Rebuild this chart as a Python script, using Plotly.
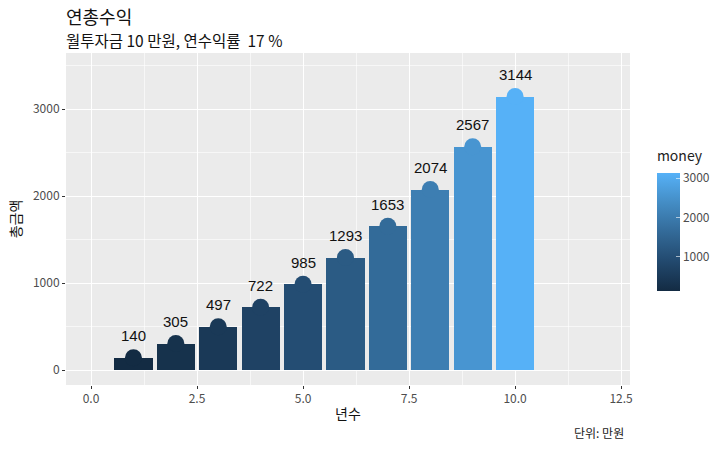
import plotly.graph_objects as go

years = [1, 2, 3, 4, 5, 6, 7, 8, 9, 10]
money = [140, 305, 497, 722, 985, 1293, 1653, 2074, 2567, 3144]
x_ticks = [0, 2.5, 5, 7.5, 10, 12.5]
x_tick_labels = ["0.0", "2.5", "5.0", "7.5", "10.0", "12.5"]
y_ticks = [0, 1000, 2000, 3000]
cbar_ticks = [1000, 2000, 3000]

cscale = [[0.0, "#132B43"], [0.25, "#22496E"], [0.5, "#336A98"],
          [0.75, "#448DC5"], [1.0, "#56B1F7"]]
cmin, cmax = min(money), max(money)

fig = go.Figure()
fig.add_trace(go.Bar(
    x=years, y=money, width=0.9,
    marker=dict(color=money, colorscale=cscale, cmin=cmin, cmax=cmax,
                line=dict(width=0), showscale=False),
    hoverinfo="x+y"))
fig.add_trace(go.Scatter(
    x=years, y=money, mode="markers",
    marker=dict(size=17, color=money, colorscale=cscale, cmin=cmin, cmax=cmax,
                line=dict(width=0), showscale=True,
                colorbar=dict(title=dict(text="money", side="top",
                                         font=dict(family="Noto Sans CJK KR", size=14, color="#222")),
                              x=1.03, xanchor="left", y=0.50, yanchor="middle",
                              len=163, lenmode="pixels", thickness=23,
                              tickvals=cbar_ticks, ticks="inside", ticklen=4,
                              tickcolor="rgba(255,255,255,0.6)", outlinewidth=0,
                              tickfont=dict(family="Noto Sans CJK KR", size=12, color="#4D4D4D"))),
    hoverinfo="skip"))

for xv, yv in zip(years, money):
    fig.add_annotation(x=xv, y=yv, text=str(yv), showarrow=False, yshift=22,
                       font=dict(family="Liberation Sans", size=15, color="#111"))

fig.add_annotation(xref="paper", yref="paper", x=-0.003, y=1.111, xanchor="left", yanchor="middle",
                   text="연총수익", showarrow=False,
                   font=dict(family="Noto Sans CJK KR", size=18, color="#111"))
fig.add_annotation(xref="paper", yref="paper", x=-0.003, y=1.039, xanchor="left", yanchor="middle",
                   text="월투자금 10 만원, 연수익률  17 %", showarrow=False,
                   font=dict(family="Noto Sans CJK KR", size=15.5, color="#111"))
fig.add_annotation(xref="paper", yref="paper", x=0.993, y=-0.142, xanchor="right", yanchor="middle",
                   text="단위: 만원", showarrow=False,
                   font=dict(family="Noto Sans CJK KR", size=12, color="#222"))

fig.update_layout(
    width=720, height=449,
    margin=dict(l=66, r=90, t=53, b=64, autoexpand=False),
    paper_bgcolor="white", plot_bgcolor="#EBEBEB",
    showlegend=False,
    bargap=0,
    font=dict(family="Noto Sans CJK KR"),
)
fig.update_xaxes(range=[-0.59, 12.71], tickvals=x_ticks, ticktext=x_tick_labels,
                 showgrid=True, gridcolor="white", gridwidth=1.3,
                 minor=dict(dtick=1.25, tick0=1.25, showgrid=True, gridcolor="rgba(255,255,255,0.6)", gridwidth=0.6),
                 zeroline=False, ticks="outside", ticklen=3, tickcolor="#333",
                 tickfont=dict(family="Noto Sans CJK KR", size=12, color="#4D4D4D"),
                 title=dict(text="년수", standoff=3, font=dict(family="Noto Sans CJK KR", size=14, color="#111")))
fig.update_yaxes(range=[-172, 3644], tickvals=y_ticks,
                 showgrid=True, gridcolor="white", gridwidth=1.3,
                 minor=dict(dtick=1000, tick0=500, showgrid=True, gridcolor="rgba(255,255,255,0.6)", gridwidth=0.6),
                 zeroline=False, ticks="outside", ticklen=3, tickcolor="#333",
                 tickfont=dict(family="Noto Sans CJK KR", size=12, color="#4D4D4D"),
                 title=dict(text="총금액", standoff=8, font=dict(family="Noto Sans CJK KR", size=14, color="#111")))

fig.write_html("out.html")
